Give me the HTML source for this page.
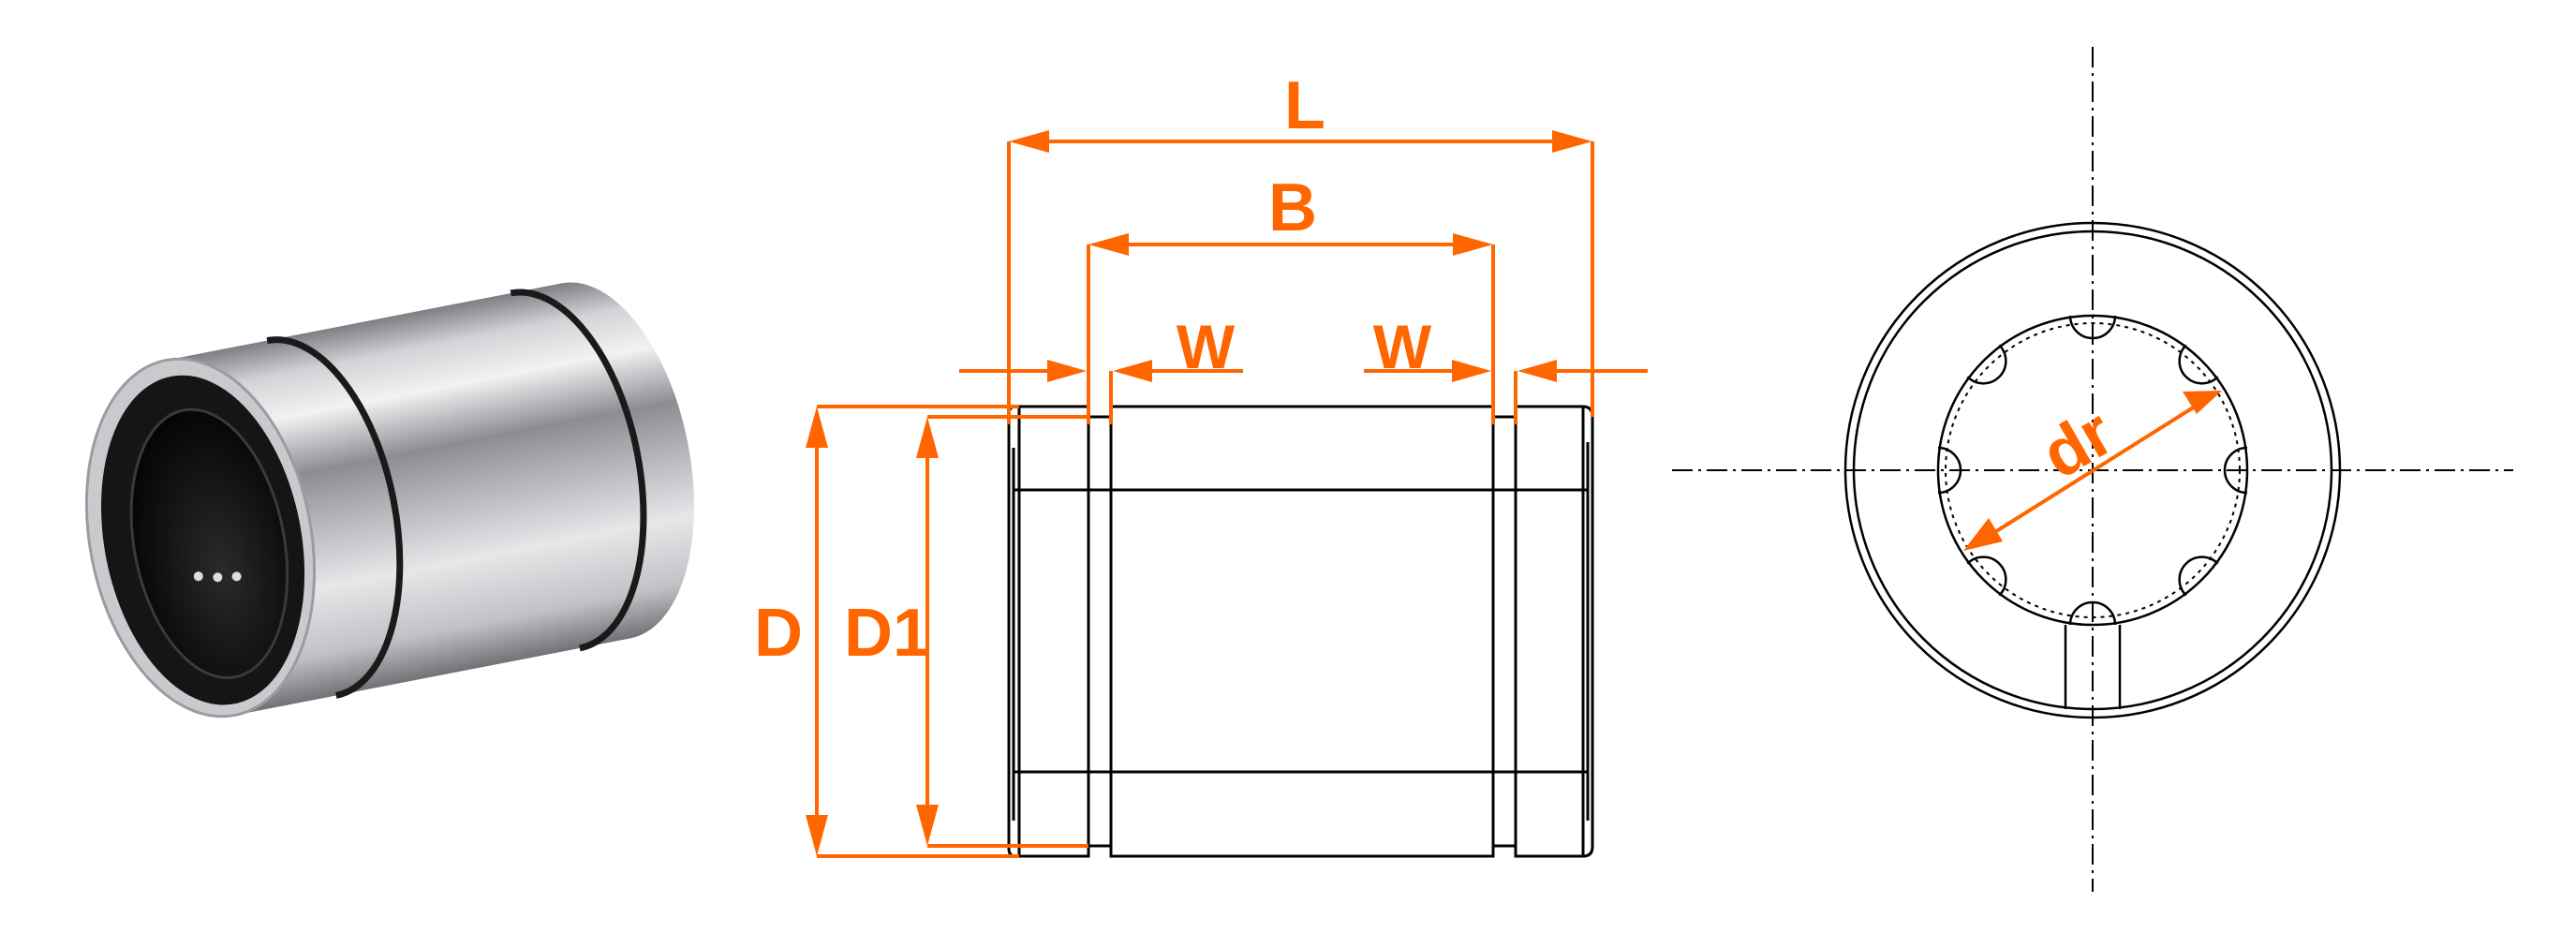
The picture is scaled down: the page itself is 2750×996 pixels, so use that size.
<!DOCTYPE html>
<html><head><meta charset="utf-8"><style>
html,body{margin:0;padding:0;background:#fff;}
svg{display:block;}
text{font-family:"Liberation Sans",sans-serif;font-weight:bold;fill:#ff6600;}
</style></head><body>
<svg width="2750" height="996" viewBox="0 0 2750 996" xmlns="http://www.w3.org/2000/svg">
<defs>
<linearGradient id="bodyg" x1="0" y1="-1" x2="0" y2="1" gradientUnits="objectBoundingBox">
<stop offset="0" stop-color="#8a8c90"/>
<stop offset="0.12" stop-color="#d9dadc"/>
<stop offset="0.25" stop-color="#f4f4f5"/>
<stop offset="0.4" stop-color="#7d7f84"/>
<stop offset="0.55" stop-color="#b5b7ba"/>
<stop offset="0.72" stop-color="#e4e5e7"/>
<stop offset="0.88" stop-color="#c6c7ca"/>
<stop offset="1" stop-color="#6e7075"/>
</linearGradient>
<linearGradient id="bodyv" x1="0" y1="0" x2="0" y2="1">
<stop offset="0" stop-color="#7d7f84"/>
<stop offset="0.1" stop-color="#d2d3d6"/>
<stop offset="0.22" stop-color="#f2f2f3"/>
<stop offset="0.38" stop-color="#8b8d92"/>
<stop offset="0.5" stop-color="#aeb0b4"/>
<stop offset="0.7" stop-color="#e6e7e9"/>
<stop offset="0.88" stop-color="#c0c2c5"/>
<stop offset="1" stop-color="#707276"/>
</linearGradient>
<radialGradient id="hole" cx="0.55" cy="0.6" r="0.6">
<stop offset="0" stop-color="#2a2a2c"/>
<stop offset="1" stop-color="#050505"/>
</radialGradient>
</defs>

<!-- Photo -->
<g transform="translate(214,574) rotate(-11)">
  <rect x="0" y="-193" width="430" height="386" fill="url(#bodyv)"/>
  <ellipse cx="430" cy="0" rx="100" ry="193" fill="url(#bodyv)"/>
  <path d="M110,-193 A100,193 0 0 1 110,193" fill="none" stroke="#1a1a1a" stroke-width="7"/>
  <path d="M375,-193 A100,193 0 0 1 375,193" fill="none" stroke="#1a1a1a" stroke-width="7"/>
  <ellipse cx="0" cy="0" rx="118" ry="193" fill="#c9cacd" stroke="#9a9ca0" stroke-width="3"/>
  <ellipse cx="2" cy="3" rx="105" ry="178" fill="#151515"/>
  <ellipse cx="8" cy="8" rx="80" ry="145" fill="url(#hole)"/>
  <ellipse cx="8" cy="8" rx="80" ry="145" fill="none" stroke="#3a3a3a" stroke-width="3"/>
  <circle cx="-10" cy="40" r="5" fill="#ddd"/><circle cx="10" cy="45" r="5" fill="#ddd"/><circle cx="30" cy="48" r="5" fill="#ddd"/>
</g>

<!-- Side view body (black) -->
<g fill="none" stroke="#000" stroke-width="3">
  <path d="M1088,434 L1084,434 Q1077,434 1077,442 L1077,906 Q1077,914 1084,914 L1088,914"/>
  <path d="M1088,434 L1162,434 L1162,914 L1088,914 Z"/>
  <path d="M1082,478 L1082,876"/>
  <path d="M1162,445 L1186,445 M1162,903 L1186,903"/>
  <path d="M1186,434 L1594,434 L1594,914 L1186,914 Z"/>
  <path d="M1594,445 L1618,445 M1594,903 L1618,903"/>
  <path d="M1618,434 L1690,434 L1690,914 L1618,914 Z"/>
  <path d="M1690,434 Q1700,434 1700,445 L1700,904 Q1700,914 1690,914"/>
  <path d="M1695,472 L1695,876"/>
  <path d="M1082,523 L1695,523 M1082,824 L1695,824"/>
</g>

<!-- Orange dimensions -->
<g stroke="#ff6600" stroke-width="4" fill="none">
  <path d="M1077,151 L1077,453 M1700,151 L1700,445"/>
  <path d="M1120,151 L1660,151"/>
  <path d="M1162,261 L1162,453 M1594,261 L1594,453"/>
  <path d="M1205,261 L1552,261"/>
  <path d="M1024,396 L1120,396 M1230,396 L1327,396 M1186,396 L1186,453"/>
  <path d="M1456,396 L1552,396 M1660,396 L1759,396 M1618,396 L1618,453"/>
  <path d="M872,434 L1088,434 M872,914 L1088,914"/>
  <path d="M990,445 L1162,445 M990,903 L1162,903"/>
  <path d="M872,475 L872,875 M990,485 L990,865"/>
</g>
<g fill="#ff6600">
  <polygon points="1077,151 1120,139 1120,163"/>
  <polygon points="1700,151 1657,139 1657,163"/>
  <polygon points="1162,261 1205,249 1205,273"/>
  <polygon points="1594,261 1551,249 1551,273"/>
  <polygon points="1160,396 1118,384 1118,408"/>
  <polygon points="1188,396 1230,384 1230,408"/>
  <polygon points="1592,396 1550,384 1550,408"/>
  <polygon points="1620,396 1662,384 1662,408"/>
  <polygon points="872,434 860,478 884,478"/>
  <polygon points="872,914 860,870 884,870"/>
  <polygon points="990,445 978,489 1002,489"/>
  <polygon points="990,903 978,859 1002,859"/>
</g>
<text x="1393" y="137" font-size="72" text-anchor="middle">L</text>
<text x="1380" y="246" font-size="72" text-anchor="middle">B</text>
<text x="1287" y="393" font-size="66" text-anchor="middle">W</text>
<text x="1497" y="393" font-size="66" text-anchor="middle">W</text>
<text x="831" y="700" font-size="72" text-anchor="middle">D</text>
<text x="947" y="700" font-size="72" text-anchor="middle">D1</text>

<!-- End view -->
<g fill="none" stroke="#000">
  <path d="M2234,50 L2234,952" stroke-width="2" stroke-dasharray="22,6,3,6"/>
  <path d="M1785,502 L2683,502" stroke-width="2" stroke-dasharray="22,6,3,6"/>
  <circle cx="2234" cy="502" r="264" stroke-width="2.5"/>
  <circle cx="2234" cy="502" r="255" stroke-width="2.5"/>
  <circle cx="2234" cy="502" r="157" stroke-width="2" stroke-dasharray="4,5"/>
  <circle cx="2234" cy="502" r="165" stroke-width="2.5"/>
  <g stroke-width="2.5">
    <path d="M2210,337 A24,24 0 0 0 2258,337"/>
    <path d="M2210,667 A24,24 0 0 1 2258,667"/>
    <path d="M2069,478 A24,24 0 0 1 2069,526"/>
    <path d="M2399,478 A24,24 0 0 0 2399,526"/>
    <g transform="rotate(45 2234 502)">
      <path d="M2210,337 A24,24 0 0 0 2258,337"/>
      <path d="M2210,667 A24,24 0 0 1 2258,667"/>
      <path d="M2069,478 A24,24 0 0 1 2069,526"/>
      <path d="M2399,478 A24,24 0 0 0 2399,526"/>
    </g>
  </g>
  <path d="M2205,667 L2205,757 M2263,667 L2263,757" stroke-width="2.5"/>
</g>
<g>
  <path d="M2125,571 L2343,434" stroke="#ff6600" stroke-width="4"/>
  <polygon points="2096,588 2123,553 2138,578" fill="#ff6600"/>
  <polygon points="2372,417 2330,418 2345,442" fill="#ff6600"/>
  <text x="2218" y="498" font-size="72" text-anchor="middle" transform="rotate(-30 2218 474)">dr</text>
</g>
</svg>
</body></html>
